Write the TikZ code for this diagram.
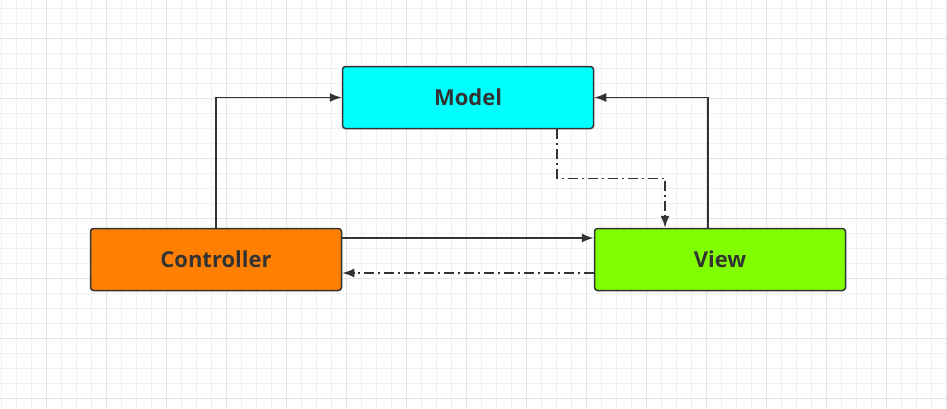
\documentclass[tikz,border=0pt]{standalone}
\usepackage{fontspec}
\setmainfont{Open Sans}
\usetikzlibrary{arrows.meta}
\definecolor{modelcyan}{HTML}{00FFFF}
\definecolor{ctrlorange}{HTML}{FF8000}
\definecolor{viewgreen}{HTML}{80FF00}
\definecolor{inkgray}{HTML}{333333}
\definecolor{gridminor}{HTML}{F0F0F0}
\definecolor{gridmajor}{HTML}{E4E4E4}
\tikzset{
  box/.style={draw=inkgray, line width=1.5pt, rounded corners=3pt, minimum width=251pt,
    minimum height=62pt, inner sep=0pt, text=inkgray, font=\bfseries\fontsize{22}{24}\selectfont},
  link/.style={draw=inkgray, line width=1.5pt, -{Latex[length=12pt,width=9pt]}},
  notify/.style={link, dash pattern=on 10pt off 4pt on 2pt off 4pt}
}
\begin{document}
\begin{tikzpicture}[x=1pt,y=-1pt]
\useasboundingbox (0,0) rectangle (947,408);
\fill[white] (0,0) rectangle (947,408);
% background grid
\foreach \x in {1,16,...,946} \draw[gridminor, line width=0.8pt] (\x,0) -- (\x,408);
\foreach \y in {8,23,...,407} \draw[gridminor, line width=0.8pt] (0,\y) -- (947,\y);
\foreach \x in {46,106,...,946} \draw[gridmajor, line width=0.8pt] (\x,0) -- (\x,408);
\foreach \y in {38,98,...,407} \draw[gridmajor, line width=0.8pt] (0,\y) -- (947,\y);
% boxes
\node[box, fill=modelcyan] (model) at (468,97.5) {Model};
\node[box, fill=ctrlorange] (ctrl) at (216,259.5) {Controller};
\node[box, fill=viewgreen] (view) at (720,259.5) {View};
% arrows
\draw[link] (ctrl.north) |- (model.west);
\draw[link] ([xshift=-12pt]view.north) |- (model.east);
\draw[notify] ([xshift=89pt]model.south) -- ++(0,49) -| ([xshift=-55pt]view.north);
\draw[link] ([yshift=21.5pt]ctrl.east) -- ([yshift=21.5pt]view.west);
\draw[notify] ([yshift=-13.5pt]view.west) -- ([yshift=-13.5pt]ctrl.east);
\end{tikzpicture}
\end{document}
